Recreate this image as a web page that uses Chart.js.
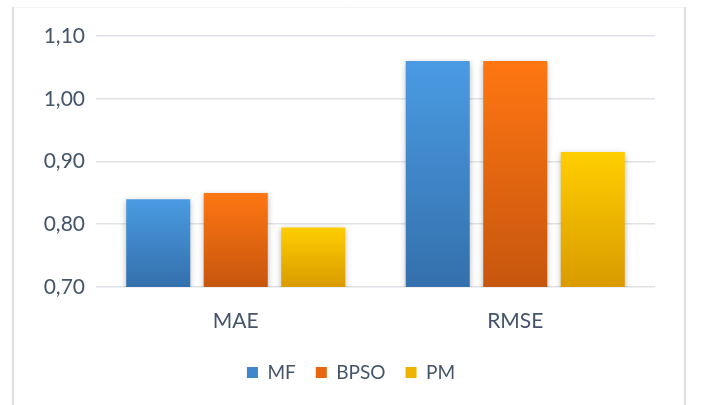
<!DOCTYPE html>
<html>
<head>
<meta charset="utf-8">
<script src="https://cdn.jsdelivr.net/npm/chart.js@4/dist/chart.umd.min.js"></script>
<style>
  html, body { margin: 0; padding: 0; background: #ffffff; }
  #wrap { width: 702px; height: 405px; position: relative; }
</style>
</head>
<body>
<div id="wrap"><canvas id="c" width="702" height="405"></canvas></div>
<script>
const categories = ['MAE', 'RMSE'];
const seriesNames = ['MF', 'BPSO', 'PM'];
const mfValues = [0.84, 1.06];
const bpsoValues = [0.85, 1.06];
const pmValues = [0.795, 0.915];
const yTickValues = [0.70, 0.80, 0.90, 1.00, 1.10];

const gradStops = {
  MF: ['#4A9BE3', '#3470AC'],
  BPSO: ['#FF7612', '#C6560E'],
  PM: ['#FFCE00', '#D99B00']
};
const solid = { MF: '#3F86CA', BPSO: '#E8660F', PM: '#EDB500' };

function barGradient(name) {
  return function (ctx) {
    const chart = ctx.chart;
    const ca = chart.chartArea;
    if (!ca || ctx.type !== 'data') return solid[name];
    const v = ctx.raw;
    const top = chart.scales.y.getPixelForValue(v);
    const bottom = ca.bottom;
    if (!isFinite(top) || bottom - top < 1) return solid[name];
    const g = chart.ctx.createLinearGradient(0, top, 0, bottom);
    g.addColorStop(0, gradStops[name][0]);
    g.addColorStop(1, gradStops[name][1]);
    return g;
  };
}

const frame = {
  id: 'frame',
  beforeDraw(chart) {
    const c = chart.ctx;
    c.save();
    c.fillStyle = '#ffffff';
    c.fillRect(0, 0, chart.width, chart.height);
    c.strokeStyle = '#F1F3F5';
    c.lineWidth = 1;
    c.beginPath(); c.moveTo(13, 7.5); c.lineTo(686, 7.5); c.stroke();
    c.strokeStyle = '#DDE1E7';
    c.lineWidth = 2;
    c.beginPath(); c.moveTo(13, 7); c.lineTo(13, 405); c.stroke();
    c.beginPath(); c.moveTo(685, 7); c.lineTo(685, 405); c.stroke();
    c.restore();
  }
};

const shadow = {
  id: 'shadow',
  beforeDatasetsDraw(chart) {
    const c = chart.ctx;
    c.save();
    c.shadowColor = 'rgba(0,0,0,0.28)';
    c.shadowBlur = 6;
    c.shadowOffsetX = 0;
    c.shadowOffsetY = 2;
  },
  afterDatasetsDraw(chart) {
    chart.ctx.restore();
  }
};

const textColor = '#44546A';
const fontFamily = 'Lato, "Open Sans", sans-serif';

const values = { MF: mfValues, BPSO: bpsoValues, PM: pmValues };

new Chart(document.getElementById('c'), {
  type: 'bar',
  data: {
    labels: categories,
    datasets: seriesNames.map(n => ({
      label: n,
      data: values[n],
      backgroundColor: barGradient(n),
      borderWidth: 0,
      barPercentage: 0.826,
      categoryPercentage: 0.832
    }))
  },
  options: {
    responsive: false,
    animation: false,
    devicePixelRatio: 1,
    layout: { padding: { left: 0, right: 0, top: 36, bottom: 13 } },
    plugins: {
      tooltip: { enabled: false },
      legend: {
        position: 'bottom',
        labels: {
          color: textColor,
          font: { family: fontFamily, size: 19 },
          boxWidth: 11,
          boxHeight: 11,
          padding: 20,
          generateLabels(chart) {
            return seriesNames.map((n, i) => ({
              text: n,
              fillStyle: solid[n],
              strokeStyle: solid[n],
              lineWidth: 0,
              hidden: false,
              datasetIndex: i,
              fontColor: textColor
            }));
          }
        }
      }
    },
    scales: {
      x: {
        grid: { display: false, drawTicks: false },
        border: { display: false },
        ticks: { color: textColor, font: { family: fontFamily, size: 21 }, padding: 22 },
        afterFit(s) { s.height = 56; }
      },
      y: {
        min: 0.7,
        max: 1.1,
        afterBuildTicks(s) { s.ticks = yTickValues.map(v => ({ value: v })); },
        grid: { color: '#DFE2E7', lineWidth: 1.5, drawTicks: false },
        border: { display: false },
        ticks: {
          color: textColor,
          font: { family: fontFamily, size: 21 },
          padding: 11,
          callback: v => Number(v).toFixed(2).replace('.', ',')
        },
        afterFit(s) { s.width = 96; }
      },
      yRightSpace: {
        position: 'right',
        display: true,
        grid: { display: false, drawTicks: false },
        border: { display: false },
        ticks: { display: false },
        afterFit(s) { s.width = 47; }
      }
    }
  },
  plugins: [frame, shadow]
});
</script>
</body>
</html>
